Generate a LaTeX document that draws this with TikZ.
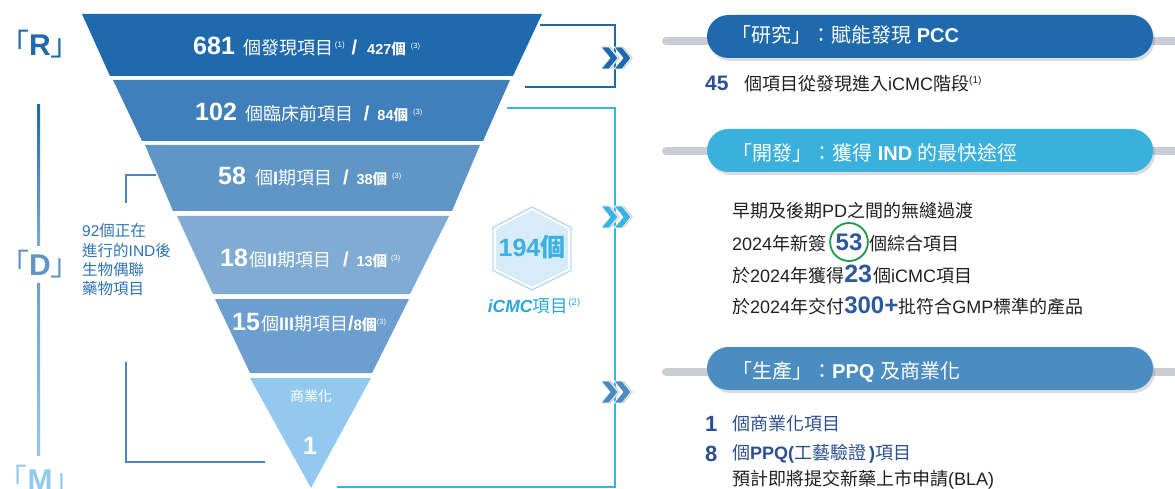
\documentclass[tikz,border=0pt]{standalone}
\usepackage{fontspec}
\setmainfont{Liberation Sans}
\newfontfamily\zh{Noto Sans CJK TC}
\usetikzlibrary{shadows,shapes.geometric}

\definecolor{bA}{HTML}{1F69AD}
\definecolor{bB}{HTML}{3F80BA}
\definecolor{bC}{HTML}{5F96C6}
\definecolor{bD}{HTML}{80ACD4}
\definecolor{bE}{HTML}{6C9ED0}
\definecolor{bF}{HTML}{93C9EE}
\definecolor{lblue}{HTML}{3BB3E0}
\definecolor{hdrA}{HTML}{1F69AD}
\definecolor{hdrB}{HTML}{3AB1DD}
\definecolor{hdrC}{HTML}{4B8CC1}
\definecolor{barg}{HTML}{C9CED4}
\definecolor{numb}{HTML}{2B4F8F}
\definecolor{numbb}{HTML}{2C58A0}
\definecolor{txt}{HTML}{231F20}
\definecolor{grn}{HTML}{1F9A4B}
\definecolor{brkc}{HTML}{4A86C0}
\definecolor{brkt}{HTML}{2E72B6}
\definecolor{hexf}{HTML}{D8EBF8}
\definecolor{hexl}{HTML}{B3DAF2}
\definecolor{hexn}{HTML}{3BB0E0}
\definecolor{icmc}{HTML}{29A5DC}
\definecolor{chevC}{HTML}{4A8CC0}

\newcommand\fs[1]{\fontsize{#1}{#1}\selectfont}
\newcommand\sups[3][6]{\raisebox{#1pt}{\fs{#2}(#3)}}

\tikzset{
  bandtxt/.style={anchor=base west, inner sep=0pt, text=white},
  rtxt/.style={anchor=base west, inner sep=0pt, text=txt, font={\fs{18}}},
  htxt/.style={anchor=base west, inner sep=0pt, text=white, font={\fs{20}}},
  pill/.style={minimum width=446pt, minimum height=43pt, rounded corners=21.5pt, inner sep=0pt,
    drop shadow={opacity=0.28, shadow xshift=2pt, shadow yshift=-3pt}},
  graybar/.style={line width=8pt, barg, line cap=round},
  conA/.style={bA, line width=2.5pt},
  conB/.style={lblue, line width=2.5pt},
  brkline/.style={brkc, line width=1.5pt},
  lett/.style={anchor=base, inner sep=0pt, font={\fs{30}}},
}

\newcommand\dblchev[2]{%
  \begin{scope}[shift={(#1)}]
    \foreach \dx in {-7,6} {
      \fill[gray!40, shift={(\dx+1.8,0)}] (-8,-11) -- (0,-11) -- (9,0) -- (0,11) -- (-8,11) -- (1,0) -- cycle;
      \fill[#2, draw=white, line width=0.6pt, shift={(\dx,0)}] (-8,-11) -- (0,-11) -- (9,0) -- (0,11) -- (-8,11) -- (1,0) -- cycle;
    }
  \end{scope}}

\begin{document}
\begin{tikzpicture}[x=1pt,y=-1pt]
\useasboundingbox (0,0) rectangle (1175,489);

% ---------- funnel ----------
\fill[bA] (82,14) -- (542,14) -- (513,76) -- (110,76) -- cycle;
\fill[bB] (113,80) -- (510,80) -- (483,141) -- (142,141) -- cycle;
\fill[bC] (145,145) -- (480,145) -- (452,211) -- (173,211) -- cycle;
\fill[bD] (177,216) -- (449,216) -- (410,294) -- (213,294) -- cycle;
\fill[bE] (215,299) -- (409,299) -- (372,373) -- (250,373) -- cycle;
\fill[bF] (250,378) -- (371,378) -- (311,488) -- cycle;

\node[bandtxt] (t1) at (193,55) {{\fs{25}\bfseries 681}\hspace{9pt}{\zh\fs{18}個發現項目}\hspace{1pt}\sups[7]{8}{1}\hspace{7pt}{\fs{20}\bfseries /}\hspace{10pt}{\fs{14.5}\bfseries 427{\zh 個}}\hspace{5pt}\sups[6]{7.5}{3}};
\node[bandtxt] (t2) at (195,121) {{\fs{25}\bfseries 102}\hspace{9pt}{\zh\fs{18}個臨床前項目}\hspace{10pt}{\fs{20}\bfseries /}\hspace{8pt}{\fs{14.5}\bfseries 84{\zh 個}}\hspace{5pt}\sups[6]{7.5}{3}};
\node[bandtxt] (t3) at (218,185) {{\fs{25}\bfseries 58}\hspace{9pt}{\fs{18}{\zh 個}{\bfseries I}{\zh 期項目}}\hspace{11pt}{\fs{20}\bfseries /}\hspace{8pt}{\fs{14.5}\bfseries 38{\zh 個}}\hspace{5pt}\sups[6]{7.5}{3}};
\node[bandtxt] (t4) at (220,266) {{\fs{25}\bfseries 18}\hspace{1pt}{\fs{18}{\zh 個}{\bfseries II}{\zh 期項目}}\hspace{12pt}{\fs{20}\bfseries /}\hspace{8pt}{\fs{14.5}\bfseries 13{\zh 個}}\hspace{4pt}\sups[6]{7.5}{3}};
\node[bandtxt] (t5) at (232,330) {{\fs{25}\bfseries 15}\hspace{1pt}{\fs{18}{\zh 個}{\bfseries III}{\zh 期項目}}{\fs{20}\bfseries /}{\fs{15}\bfseries 8{\zh 個}}\sups[6]{7.5}{3}};
\node[text=white, font={\fs{14}}, inner sep=0pt] (t6) at (311,396) {{\zh 商業化}};
\node[text=white, font={\fs{25}\bfseries}, inner sep=0pt] (t7) at (310,446) {1};

% ---------- left stage letters and line ----------
\shade[top color=bA, bottom color=bC!80] (37,105) rectangle (40,245);
\shade[top color=bC!90, bottom color=bF] (37,283) rectangle (40,455);
\node[lett, text=bA] (R) at (40,56) {{\zh 「}{\bfseries R}{\zh 」}};
\node[lett, text=bC] (D) at (40,275) {{\zh 「}{\bfseries D}{\zh 」}};
\node[lett, text=bF] (M) at (40,490) {{\zh 「}{\bfseries M}{\zh 」}};

% bracket for the IND text
\coordinate (bk1) at (156,175);
\coordinate (bk2) at (126,203);
\coordinate (bk3) at (126,362);
\coordinate (bk4) at (265,462);
\draw[brkline] (bk1) -| (bk2);
\draw[brkline] (bk3) |- (bk4);
\node[anchor=north west, align=left, inner sep=0pt, text=brkt, font={\fontsize{15.5}{19.4}\selectfont}] (ind) at (82,223.5)
  {92{\zh 個正在}\\{\zh 進行的}IND{\zh 後}\\{\zh 生物偶聯}\\{\zh 藥物項目}};

% ---------- hexagon ----------
\begin{scope}[shift={(532,248.5)}]
  \fill[hexf, scale=0.92] (0,-41.5) -- (39,-21) -- (39,22) -- (0,41.5) -- (-39,22) -- (-39,-21) -- cycle;
  \draw[hexl, line width=1.3pt] (0,-41.5) -- (39,-21) -- (39,22) -- (0,41.5) -- (-39,22) -- (-39,-21) -- cycle;
\end{scope}
\node[text=hexn, font={\fs{25}\bfseries}, inner sep=0pt] (hx) at (532,247) {194{\zh 個}};
\node[anchor=base, text=icmc, font={\fs{17.5}}, inner sep=0pt] (hxl) at (534,312) {{\bfseries\itshape iCMC}{\zh 項目}\hspace{1pt}\sups[7]{9.5}{2}};

% ---------- connectors ----------
\coordinate (r1) at (540,25);
\coordinate (r2) at (525,87);
\coordinate (d1) at (507,108);
\coordinate (d2) at (337,487);
\coordinate (c1) at (615,58);
\coordinate (c2) at (615,217);
\coordinate (c3) at (615,392);
\draw[conA] (r1) -| (c1) |- (r2);
\draw[conB] (d1) -| (c2) -- (c3) |- (d2);
\dblchev{616,58}{bA}
\dblchev{616,217}{lblue}
\dblchev{616,392}{chevC}

% ---------- right headers ----------
\draw[graybar] (666,41.5) -- (1190,41.5);
\draw[graybar] (666,151.5) -- (1190,151.5);
\draw[graybar] (666,371.5) -- (1190,371.5);
\node[pill, fill=hdrA] (h1) at (930,36.5) {};
\node[pill, fill=hdrB] (h2) at (930,150.5) {};
\node[pill, fill=hdrC] (h3) at (930,368.5) {};
\node[htxt] (h1t) at (731,43) {{\zh 「研究」：賦能發現} {\bfseries PCC}};
\node[htxt] (h2t) at (732,161) {{\zh 「開發」：獲得} {\bfseries IND} {\zh 的最快途徑}};
\node[htxt] (h3t) at (732,378) {{\zh 「生產」：}{\bfseries PPQ} {\zh 及商業化}};

% ---------- research text ----------
\node[rtxt, text=numb, font={\fs{21}\bfseries}] (s1n) at (705,91) {45};
\node[rtxt] (s1t) at (744,91) {{\zh 個項目從發現進入}iCMC{\zh 階段}\sups[7]{10}{1}};

% ---------- development text ----------
\node[rtxt] (dv1) at (732,218) {{\zh 早期及後期}PD{\zh 之間的無縫過渡}};
\node[rtxt] (dv2a) at (732,250) {2024{\zh 年新簽}};
\node[ellipse, draw=grn, line width=1.8pt, minimum width=35pt, minimum height=38pt, inner sep=0pt, text=numbb, font={\fs{24}\bfseries}] (n53) at (849,242) {53};
\node[rtxt] (dv2b) at (869,250) {{\zh 個綜合項目}};
\node[rtxt] (dv3) at (732,282) {{\zh 於}2024{\zh 年獲得}{\fs{25}\bfseries\color{numbb}23}\hspace{1pt}{\zh 個}iCMC{\zh 項目}};
\node[rtxt] (dv4) at (732,313) {{\zh 於}2024{\zh 年交付}{\fs{24}\bfseries\color{numbb}300+}{\zh 批符合}GMP{\zh 標準的產品}};

% ---------- manufacturing text ----------
\node[rtxt, text=numb, font={\fs{22}\bfseries}] (p1n) at (705,431) {1};
\node[rtxt, text=numb] (p1t) at (732,430) {{\zh 個商業化項目}};
\node[rtxt, text=numb, font={\fs{22}\bfseries}] (p2n) at (705,461) {8};
\node[rtxt, text=numb] (p2t) at (732,459) {{\zh 個}{\bfseries PPQ(}{\zh 工藝驗證}{\bfseries\,)}{\zh 項目}};
\node[rtxt] (p3t) at (732,485) {{\zh 預計即將提交新藥上市申請}(BLA)};
\end{tikzpicture}
\end{document}
